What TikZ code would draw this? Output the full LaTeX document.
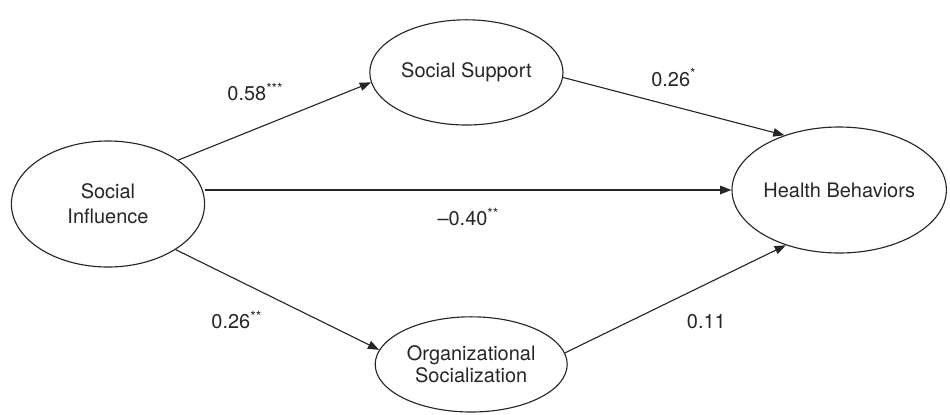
\documentclass[tikz,border=0pt]{standalone}
\usepackage{fontspec}
\setmainfont{TeX Gyre Heros}
\usetikzlibrary{positioning,shapes.geometric,arrows.meta}

\begin{document}
\begin{tikzpicture}[on grid,
    var/.style={ellipse,draw=black!85,line width=0.8pt,inner sep=0pt,align=center,
      text=black!85,font=\fontsize{14.2}{17.8}\selectfont},
    lbl/.style={text=black!85,font=\fontsize{14.2}{17}\selectfont},
    every edge/.style={draw=black!85,line width=0.8pt},
    >={Triangle[length=2.8mm,width=2.1mm]}]
    \useasboundingbox (-2.7,-5.25) rectangle (21.05,5.1);
    \node[var,minimum width=4.83cm,minimum height=3.15cm] (infl) {Social\\Influence};
    \node[var,minimum width=4.83cm,minimum height=2.63cm] (supp) [above right=3.29cm and 8.96cm of infl] {Social Support};
    \node[var,minimum width=5.35cm,minimum height=3.15cm] (hlth) [above right=0.35cm and 18.28cm of infl] {Health Behaviors};
    \node[var,minimum width=4.8cm,minimum height=2.38cm,font=\fontsize{14.2}{15.4}\selectfont] (orgs) [below right=4.01cm and 9.08cm of infl] {Organizational\\Socialization};
    \path[->]
    (infl.32) edge node[lbl,pos=0.4,yshift=0.92cm] {0.58\textsuperscript{***}} (supp.186)
    (supp.-3) edge node[lbl,pos=0.5,yshift=0.72cm] {0.26\textsuperscript{*}} (hlth.135)
    (infl.east |- hlth.west) edge node[lbl,pos=0.5,yshift=-0.68cm] {\textendash0.40\textsuperscript{**}} (hlth.west)
    (infl.-34) edge node[lbl,pos=0.3,yshift=-1.01cm] {0.26\textsuperscript{**}} (orgs.171)
    (orgs.7) edge node[lbl,pos=0.64,yshift=-0.93cm] {0.11} (hlth.226);

\end{tikzpicture}
\end{document}
